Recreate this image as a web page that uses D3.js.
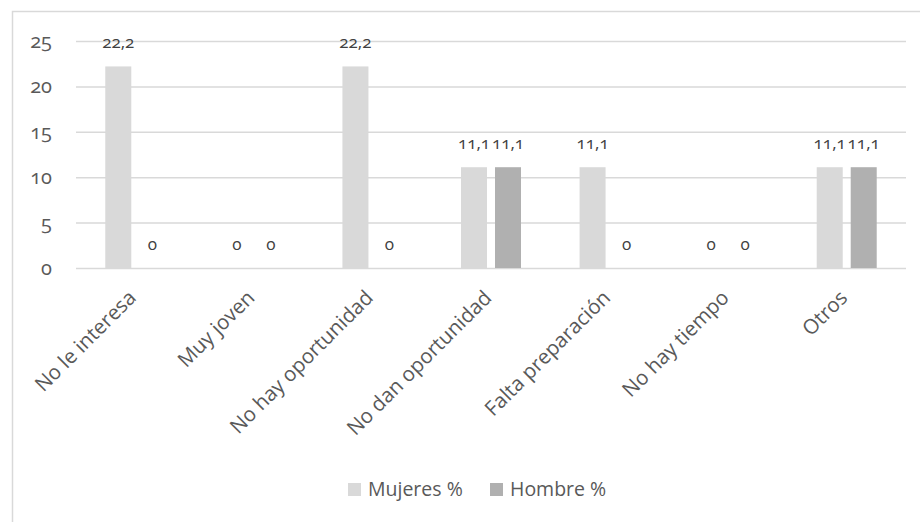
<!DOCTYPE html>
<html><head><meta charset="utf-8">
<script src="https://cdn.jsdelivr.net/npm/d3@7"></script>
<style>body{margin:0;background:#fff;} svg{display:block;font-family:"Open Sans","Noto Sans",sans-serif;} .num{font-variant-numeric:oldstyle-nums;font-feature-settings:"onum" 1;}</style>
</head><body>
<svg id="c" width="920" height="522"></svg>
<script>
const categories = ["No le interesa","Muy joven","No hay oportunidad","No dan oportunidad","Falta preparación","No hay tiempo","Otros"];
const seriesNames = ["Mujeres %","Hombre %"];
const mujeres = [22.2, 0, 22.2, 11.1, 11.1, 0, 11.1];
const hombre = [0, 0, 0, 11.1, 0, 0, 11.1];
const yTicks = [0,5,10,15,20,25];
const colors = ["#d9d9d9","#b0b0b0"];

(function(){
const svg = d3.select("#c");
svg.append("rect").attr("x",12.5).attr("y",11.5).attr("width",930).attr("height",530)
  .attr("fill","#fff").attr("stroke","#d9d9d9").attr("stroke-width",1.5);

const pLeft=76, pRight=906, pTop=41, pBottom=268;
const y = d3.scaleLinear().domain([0,25]).range([pBottom, pTop]);
const x0 = d3.scaleBand().domain(categories).range([pLeft,pRight]).padding(0);
const x1 = d3.scaleBand().domain(seriesNames)
  .range([x0.bandwidth()/2-30, x0.bandwidth()/2+30]).paddingInner(0.235);

svg.append("g").selectAll("line").data(yTicks).join("line")
  .attr("x1",pLeft).attr("x2",pRight)
  .attr("y1",d=>y(d)+0.5).attr("y2",d=>y(d)+0.5)
  .attr("stroke","#d9d9d9").attr("stroke-width",1.5);

svg.append("g").selectAll("text").data(yTicks).join("text")
  .attr("class","num")
  .attr("x",52).attr("y",d=>y(d)+7)
  .attr("text-anchor","end").attr("fill","#595959").attr("font-size",20)
  .text(d=>d);

const data = categories.map((c,i)=>({cat:c, vals:[{s:seriesNames[0],v:mujeres[i],k:0},{s:seriesNames[1],v:hombre[i],k:1}]}));

const g = svg.append("g").selectAll("g").data(data).join("g")
  .attr("transform",d=>`translate(${x0(d.cat)},0)`);
g.selectAll("rect").data(d=>d.vals).join("rect")
  .attr("x",d=>x1(d.s)).attr("width",x1.bandwidth())
  .attr("y",d=>y(d.v)).attr("height",d=>y(0)-y(d.v))
  .attr("fill",d=>colors[d.k]);
g.selectAll("text").data(d=>d.vals).join("text")
  .attr("class","num")
  .attr("x",d=>x1(d.s)+x1.bandwidth()/2).attr("y",d=>y(d.v)-18)
  .attr("text-anchor","middle").attr("fill","#404040").attr("font-size",17)
  .text(d=>String(d.v).replace(".",","));

svg.append("g").selectAll("text").data(categories).join("text")
  .attr("transform",d=>`translate(${x0(d)+x0.bandwidth()/2+2},${pBottom+31}) rotate(-45)`)
  .attr("text-anchor","end").attr("fill","#595959").attr("font-size",20.5)
  .text(d=>d);

const leg = svg.append("g");
const legX = [348, 490];
seriesNames.forEach((s,i)=>{
  leg.append("rect").attr("x",legX[i]).attr("y",483).attr("width",13).attr("height",13).attr("fill",colors[i]);
  leg.append("text").attr("x",legX[i]+20).attr("y",496)
    .attr("fill","#595959").attr("font-size",19.5).text(s);
});
})();
</script>
</body></html>
